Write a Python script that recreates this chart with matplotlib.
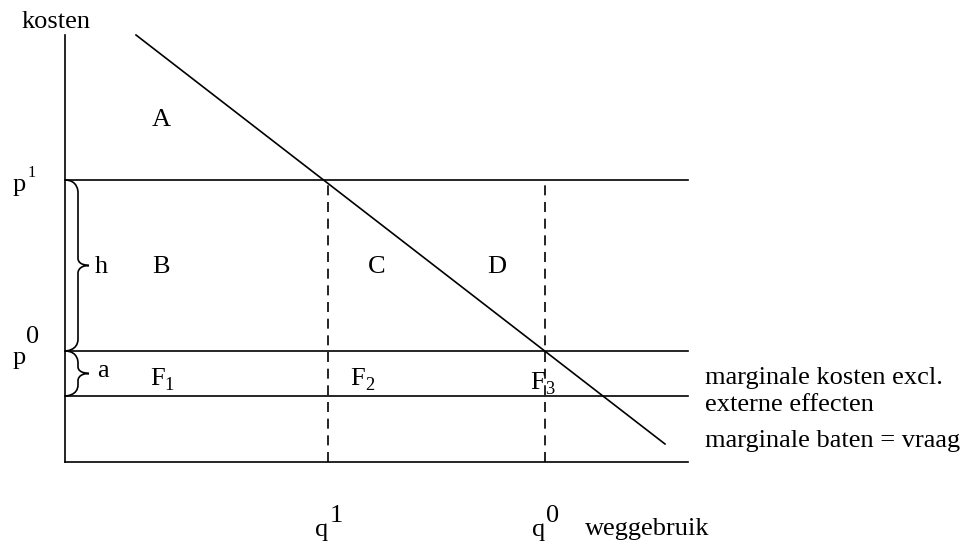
import matplotlib
matplotlib.use("Agg")
import matplotlib.pyplot as plt
from matplotlib.path import Path
from matplotlib.patches import PathPatch

plt.rcParams['font.family'] = ['Liberation Serif', 'DejaVu Serif']

# ---- diagram values (data units) ----
x_end = 6.23          # end of horizontal axis / price lines
y_top = 4.27          # top of vertical axis
q_values = [2.63, 4.80]          # q1, q0
q_labels = ["1", "0"]
p_values = [2.82, 1.11]          # p1, p0
p_labels = ["1", "0"]
mc_value = 0.66                  # marginale kosten excl. externe effecten
demand_x = [0.71, 6.00]
demand_y = [4.27, 0.18]
area_labels = ["A", "B", "C", "D"]
area_x = [0.96, 0.96, 3.12, 4.32]
area_y = [3.42, 1.95, 1.95, 1.95]
f_subs = ["1", "2", "3"]
f_x = [0.93, 2.93, 4.73]
f_y = [0.83, 0.83, 0.79]

fig = plt.figure(figsize=(9.65, 5.44), dpi=100)
ax = fig.add_axes([0, 0, 1, 1])
ax.set_xlim(-0.65, 9.00)
ax.set_ylim(-0.82, 4.62)
ax.axis('off')

lw = 1.2
fs = 19
# axes
ax.plot([0, 0], [0, y_top], color='black', lw=lw)
ax.plot([0, x_end], [0, 0], color='black', lw=lw)
# horizontal lines
for p in p_values:
    ax.plot([0, x_end], [p, p], color='black', lw=lw)
ax.plot([0, x_end], [mc_value, mc_value], color='black', lw=lw)
# dashed verticals
for q in q_values:
    ax.plot([q, q], [0, p_values[0]], color='black', lw=lw, ls=(0, (6, 4)))
# demand line
ax.plot(demand_x, demand_y, color='black', lw=lw)

# braces
def brace(y_hi, y_lo, x0=0.0, xm=0.13, xt=0.24):
    mid = (y_hi + y_lo) / 2
    r = min(0.12, (y_hi - y_lo) / 4)
    verts = [
        (x0, y_hi), (xm, y_hi), (xm, y_hi - r), (xm, y_hi - r),
        (xm, mid + r * 0.6),
        (xm, mid), (xt, mid), (xt, mid),
        (xm, mid), (xm, mid - r * 0.6), (xm, mid - r * 0.6),
        (xm, y_lo + r),
        (xm, y_lo), (x0, y_lo), (x0, y_lo),
    ]
    codes = [Path.MOVETO, Path.CURVE4, Path.CURVE4, Path.LINETO,
             Path.LINETO,
             Path.CURVE4, Path.CURVE4, Path.LINETO,
             Path.CURVE4, Path.CURVE4, Path.LINETO,
             Path.LINETO,
             Path.CURVE4, Path.CURVE4, Path.LINETO]
    ax.add_patch(PathPatch(Path(verts, codes), fill=False, lw=lw, color='black'))

brace(p_values[0], p_values[1])
brace(p_values[1], mc_value)

# text labels
ax.text(-0.09, 4.40, "kosten", fontsize=fs, ha='center', va='center')
for lab, x, y in zip(area_labels, area_x, area_y):
    ax.text(x, y, lab, fontsize=fs, ha='center', va='center')
ax.text(0.36, 1.95, "h", fontsize=fs, ha='center', va='center')
ax.text(0.38, 0.91, "a", fontsize=fs, ha='center', va='center')
for s, x, y in zip(f_subs, f_x, f_y):
    ax.text(x, y, "F", fontsize=fs, ha='center', va='center')
    ax.text(x + 0.115, y - 0.06, s, fontsize=fs * 0.7, ha='center', va='center')

# price labels
ax.text(-0.455, p_values[0] - 0.05, "p", fontsize=fs, ha='center', va='center')
ax.text(-0.335, p_values[0] + 0.07, p_labels[0], fontsize=fs * 0.62, ha='center', va='center')
ax.text(-0.455, p_values[1] - 0.07, "p", fontsize=fs, ha='center', va='center')
ax.text(-0.32, p_values[1] + 0.14, p_labels[1], fontsize=fs, ha='center', va='center')

# quantity labels
for q, lab in zip(q_values, q_labels):
    ax.text(q - 0.06, -0.68, "q", fontsize=fs, ha='center', va='center')
    ax.text(q + 0.08, -0.54, lab, fontsize=fs, ha='center', va='center')
ax.text(5.20, -0.67, "weggebruik", fontsize=fs, ha='left', va='center')

ax.text(6.40, 0.84, "marginale kosten excl.", fontsize=fs, ha='left', va='center')
ax.text(6.40, 0.57, "externe effecten", fontsize=fs, ha='left', va='center')
ax.text(6.40, 0.21, "marginale baten = vraag", fontsize=fs, ha='left', va='center')

fig.savefig("out.png", dpi=100)
